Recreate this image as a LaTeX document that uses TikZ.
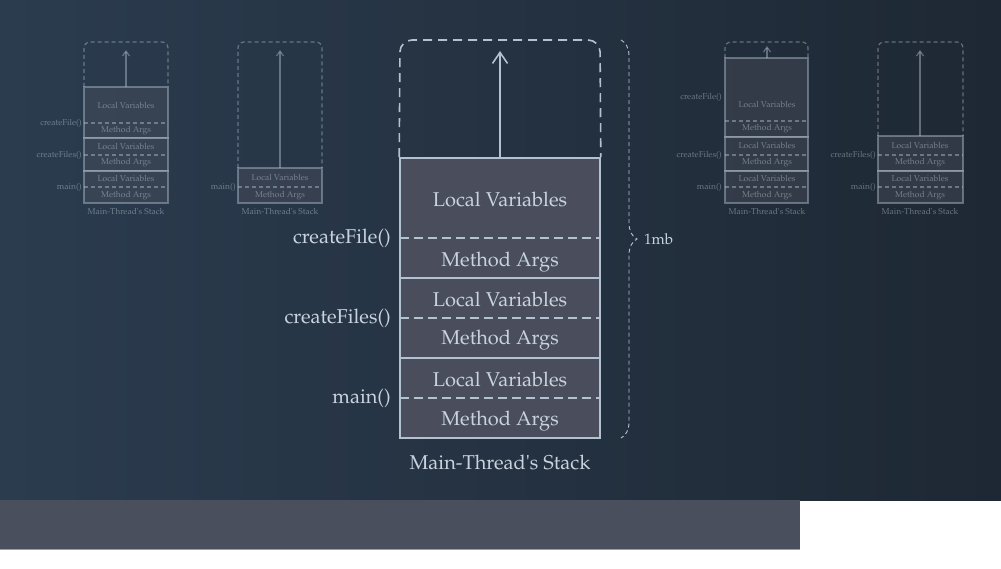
\documentclass[tikz,border=0pt]{standalone}
\usepackage[T1]{fontenc}
\usepackage{mathpazo}
\usetikzlibrary{arrows.meta,decorations.pathreplacing}

\definecolor{bgleft}{HTML}{2B3C4F}
\definecolor{bgright}{HTML}{1E2834}
\definecolor{cellfill}{HTML}{4A4E5C}
\definecolor{edgecol}{HTML}{B3C2D1}
\definecolor{txtcol}{HTML}{C8D3DE}
\definecolor{bandcol}{HTML}{4A4F5D}

\tikzset{
  cell/.style={draw=edgecol, line width=1.6pt, fill=cellfill, minimum width=200pt, inner sep=0pt},
  sepline/.style={draw=edgecol, line width=1.6pt, dash pattern=on 9pt off 5pt},
  lbl/.style={text=txtcol, font=\fontsize{20}{22}\selectfont, inner sep=1pt},
  growarrow/.style={draw=edgecol, line width=1.6pt, -{Straight Barb[length=11pt,width=15pt]}},
  faint/.style={opacity=0.45},
  tiny/.style={text=txtcol, font=\fontsize{8.5}{9}\selectfont, inner sep=0pt},
  thinline/.style={draw=edgecol, line width=1.2pt},
  thinsep/.style={draw=edgecol, line width=1.2pt, dash pattern=on 4pt off 3pt},
}

\begin{document}
\begin{tikzpicture}[x=1pt,y=-1pt]
\useasboundingbox (0,0) rectangle (1001,569);

% background
\shade[left color=bgleft, right color=bgright] (0,0) rectangle (1001,500);
\fill[bandcol] (0,500) rectangle (800,549);
\draw[edgecol!70!bandcol, line width=1pt] (0,549) -- (800,549);

% main stack
\node[cell, minimum height=120pt] (fileframe) at (500,218) {};
\node[cell, minimum height=80pt] (filesframe) at (500,318) {};
\node[cell, minimum height=80pt] (mainframe) at (500,398) {};

\path[sepline] (400,238) -- (600,238);
\path[sepline] (400,318) -- (600,318);
\path[sepline] (400,398) -- (600,398);

\path[draw=edgecol, line width=1.6pt, dash pattern=on 9pt off 6pt, rounded corners=12pt]
  (fileframe.north west) -- (400,40) -- (600,40) -- (fileframe.north east);

\coordinate (growtop) at (500,51);
\path[growarrow] (fileframe.north) -- (growtop);

\node[lbl] (lv1) at (500,199) {Local Variables};
\node[lbl] (ma1) at (500,262) {Method Args};
\node[lbl] (lv2) at (500,299) {Local Variables};
\node[lbl] (ma2) at (500,340) {Method Args};
\node[lbl] (lv3) at (500,379) {Local Variables};
\node[lbl] (ma3) at (500,421) {Method Args};

\node[lbl, anchor=east] (createfile) at (392,238) {createFile()};
\node[lbl, anchor=east] (createfiles) at (392,318) {createFiles()};
\node[lbl, anchor=east] (mainfn) at (392,398) {main()};

\node[lbl] (stackname) at (500,462) {Main-Thread\textquotesingle s Stack};

% size brace
\path[draw=edgecol, line width=0.9pt, dash pattern=on 4pt off 3pt, decorate,
  decoration={brace, amplitude=16pt}] (621,40) -- (621,438);
\node[lbl, font=\fontsize{15}{17}\selectfont, anchor=west] (size) at (643,239) {1mb};

% faded stacks
\begin{scope}[faint]
% stack A
\path[thinsep, rounded corners=6pt] (84,87) -- (84,42) -- (168,42) -- (168,87);
\path[thinline, fill=cellfill] (84,87) rectangle (168,138);
\path[thinline, fill=cellfill] (84,138) rectangle (168,171);
\path[thinline, fill=cellfill] (84,171) rectangle (168,203);
\path[thinsep] (84,123) -- (168,123);
\path[thinsep] (84,155) -- (168,155);
\path[thinsep] (84,187) -- (168,187);
\coordinate (a-top) at (126,50);
\coordinate (a-base) at (126,87);
\path[thinline, -{Straight Barb[length=5pt,width=7pt]}] (a-base) -- (a-top);
\node[tiny] (a-lv1) at (126,106) {Local Variables};
\node[tiny] (a-ma1) at (126,131) {Method Args};
\node[tiny] (a-lv2) at (126,147) {Local Variables};
\node[tiny] (a-ma2) at (126,163) {Method Args};
\node[tiny] (a-lv3) at (126,179) {Local Variables};
\node[tiny] (a-ma3) at (126,196) {Method Args};
\node[tiny, anchor=east] (a-file) at (82,123) {createFile()};
\node[tiny, anchor=east] (a-files) at (82,155) {createFiles()};
\node[tiny, anchor=east] (a-main) at (82,187) {main()};
\node[tiny] (a-name) at (126,212) {Main-Thread\textquotesingle s Stack};

% stack B
\path[thinsep, rounded corners=6pt] (238,168) -- (238,42) -- (322,42) -- (322,168);
\path[thinline, fill=cellfill] (238,168) rectangle (322,203);
\path[thinsep] (238,187) -- (322,187);
\coordinate (b-top) at (280,50);
\coordinate (b-base) at (280,168);
\path[thinline, -{Straight Barb[length=5pt,width=7pt]}] (b-base) -- (b-top);
\node[tiny] (b-lv) at (280,178) {Local Variables};
\node[tiny] (b-ma) at (280,196) {Method Args};
\node[tiny, anchor=east] (b-main) at (236,187) {main()};
\node[tiny] (b-name) at (280,212) {Main-Thread\textquotesingle s Stack};

% stack C
\path[thinsep, rounded corners=6pt] (725,58) -- (725,42) -- (808,42) -- (808,58);
\path[thinline, fill=cellfill] (725,58) rectangle (808,137);
\path[thinline, fill=cellfill] (725,137) rectangle (808,171);
\path[thinline, fill=cellfill] (725,171) rectangle (808,203);
\path[thinsep] (725,121) -- (808,121);
\path[thinsep] (725,155) -- (808,155);
\path[thinsep] (725,187) -- (808,187);
\coordinate (c-top) at (767,46);
\coordinate (c-base) at (767,58);
\path[thinline, -{Straight Barb[length=5pt,width=7pt]}] (c-base) -- (c-top);
\node[tiny] (c-lv1) at (767,105) {Local Variables};
\node[tiny] (c-ma1) at (767,129) {Method Args};
\node[tiny] (c-lv2) at (767,146) {Local Variables};
\node[tiny] (c-ma2) at (767,163) {Method Args};
\node[tiny] (c-lv3) at (767,179) {Local Variables};
\node[tiny] (c-ma3) at (767,196) {Method Args};
\node[tiny, anchor=east] (c-file) at (722,97) {createFile()};
\node[tiny, anchor=east] (c-files) at (722,155) {createFiles()};
\node[tiny, anchor=east] (c-main) at (722,187) {main()};
\node[tiny] (c-name) at (767,212) {Main-Thread\textquotesingle s Stack};

% stack D
\path[thinsep, rounded corners=6pt] (878,136) -- (878,42) -- (963,42) -- (963,136);
\path[thinline, fill=cellfill] (878,136) rectangle (963,171);
\path[thinline, fill=cellfill] (878,171) rectangle (963,203);
\path[thinsep] (878,155) -- (963,155);
\path[thinsep] (878,187) -- (963,187);
\coordinate (d-top) at (920,50);
\coordinate (d-base) at (920,136);
\path[thinline, -{Straight Barb[length=5pt,width=7pt]}] (d-base) -- (d-top);
\node[tiny] (d-lv1) at (920,146) {Local Variables};
\node[tiny] (d-ma1) at (920,163) {Method Args};
\node[tiny] (d-lv2) at (920,179) {Local Variables};
\node[tiny] (d-ma2) at (920,196) {Method Args};
\node[tiny, anchor=east] (d-files) at (876,155) {createFiles()};
\node[tiny, anchor=east] (d-main) at (876,187) {main()};
\node[tiny] (d-name) at (920,212) {Main-Thread\textquotesingle s Stack};
\end{scope}
\end{tikzpicture}
\end{document}
